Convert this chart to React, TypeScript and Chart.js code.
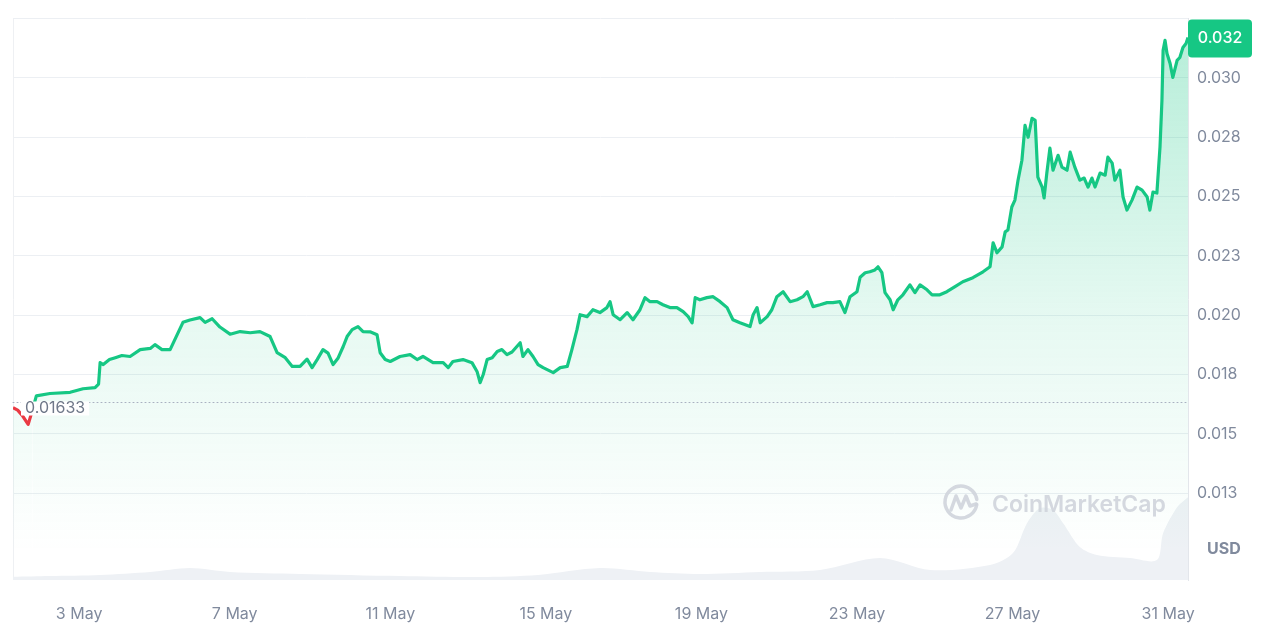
import { useEffect, useRef } from "react";
import { Chart, registerables } from "chart.js";

Chart.register(...registerables);

// Time in days of May (e.g. 3.5 = 3 May 12:00)
const days = [
  1.30, 1.42, 1.55, 1.69, 1.80, 1.90, 2.25, 2.77, 3.10, 3.41, 3.50, 3.54, 3.62, 3.78, 3.93, 4.10, 4.31, 4.57, 4.83, 4.95,
  5.13, 5.34, 5.47, 5.67, 5.85, 6.11, 6.24, 6.42, 6.62, 6.88, 7.14, 7.40, 7.65, 7.91, 8.09, 8.30, 8.48, 8.68, 8.86, 8.99,
  9.12, 9.27, 9.40, 9.53, 9.66, 9.79, 9.89, 10.02, 10.17, 10.30, 10.48, 10.66, 10.74, 10.87, 11.00, 11.25, 11.51, 11.69, 11.84, 12.10,
  12.36, 12.49, 12.61, 12.87, 13.10, 13.23, 13.31, 13.39, 13.49, 13.62, 13.75, 13.87, 14.00, 14.13, 14.34, 14.41, 14.54, 14.67, 14.80, 14.93,
  15.19, 15.37, 15.55, 15.67, 15.80, 15.88, 16.06, 16.21, 16.39, 16.57, 16.65, 16.73, 16.91, 17.09, 17.24, 17.42, 17.55, 17.68, 17.86, 18.01,
  18.19, 18.37, 18.53, 18.66, 18.76, 18.84, 18.96, 19.14, 19.30, 19.48, 19.66, 19.81, 19.99, 20.25, 20.33, 20.43, 20.51, 20.69, 20.81, 20.94,
  21.10, 21.28, 21.46, 21.61, 21.72, 21.87, 22.05, 22.23, 22.38, 22.56, 22.69, 22.82, 23.00, 23.08, 23.21, 23.33, 23.46, 23.54, 23.64, 23.72,
  23.85, 23.93, 24.05, 24.18, 24.36, 24.49, 24.62, 24.80, 24.93, 25.13, 25.31, 25.52, 25.72, 25.98, 26.24, 26.42, 26.50, 26.60, 26.73, 26.81,
  26.88, 26.98, 27.06, 27.14, 27.24, 27.32, 27.40, 27.50, 27.58, 27.65, 27.76, 27.81, 27.88, 27.96, 28.04, 28.17, 28.27, 28.40, 28.48, 28.60,
  28.73, 28.84, 28.94, 29.04, 29.12, 29.25, 29.38, 29.45, 29.56, 29.63, 29.76, 29.84, 29.94, 30.07, 30.20, 30.33, 30.46, 30.53, 30.61, 30.71,
  30.79, 30.84, 30.87, 30.92, 30.97, 31.05, 31.12, 31.23, 31.30, 31.38, 31.46, 31.51,
];

const prices = [
  0.01610, 0.01600, 0.01575, 0.01540, 0.01600, 0.01660, 0.01670, 0.01675, 0.01690, 0.01695, 0.01710, 0.01800, 0.01792, 0.01813, 0.01821, 0.01830, 0.01826, 0.01855, 0.01860, 0.01876,
  0.01855, 0.01855, 0.01900, 0.01970, 0.01980, 0.01990, 0.01970, 0.01985, 0.01950, 0.01920, 0.01931, 0.01926, 0.01931, 0.01910, 0.01842, 0.01821, 0.01784, 0.01784, 0.01815, 0.01779,
  0.01813, 0.01855, 0.01840, 0.01792, 0.01820, 0.01868, 0.01910, 0.01939, 0.01952, 0.01931, 0.01930, 0.01918, 0.01842, 0.01813, 0.01805, 0.01826, 0.01834, 0.01813, 0.01826, 0.01800,
  0.01800, 0.01779, 0.01805, 0.01813, 0.01800, 0.01763, 0.01716, 0.01750, 0.01813, 0.01821, 0.01847, 0.01855, 0.01834, 0.01845, 0.01884, 0.01826, 0.01855, 0.01826, 0.01792, 0.01779,
  0.01758, 0.01779, 0.01784, 0.01855, 0.01939, 0.02002, 0.01994, 0.02023, 0.02011, 0.02032, 0.02057, 0.02002, 0.01981, 0.02011, 0.01981, 0.02023, 0.02074, 0.02057, 0.02057, 0.02044,
  0.02032, 0.02032, 0.02015, 0.01994, 0.01968, 0.02074, 0.02065, 0.02074, 0.02078, 0.02057, 0.02032, 0.01981, 0.01968, 0.01952, 0.02002, 0.02032, 0.01968, 0.01994, 0.02023, 0.02078,
  0.02099, 0.02057, 0.02065, 0.02078, 0.02099, 0.02036, 0.02044, 0.02053, 0.02053, 0.02057, 0.02011, 0.02078, 0.02099, 0.02160, 0.02179, 0.02183, 0.02191, 0.02204, 0.02179, 0.02095,
  0.02065, 0.02023, 0.02065, 0.02086, 0.02128, 0.02095, 0.02128, 0.02107, 0.02086, 0.02086, 0.02099, 0.02120, 0.02141, 0.02158, 0.02183, 0.02204, 0.02305, 0.02263, 0.02288, 0.02351,
  0.02359, 0.02456, 0.02485, 0.02569, 0.02653, 0.02800, 0.02750, 0.02830, 0.02821, 0.02582, 0.02540, 0.02494, 0.02599, 0.02704, 0.02611, 0.02674, 0.02624, 0.02611, 0.02687, 0.02624,
  0.02569, 0.02578, 0.02540, 0.02578, 0.02540, 0.02599, 0.02590, 0.02666, 0.02641, 0.02569, 0.02611, 0.02498, 0.02443, 0.02485, 0.02540, 0.02527, 0.02498, 0.02443, 0.02519, 0.02515,
  0.02708, 0.02905, 0.03116, 0.03158, 0.03103, 0.03061, 0.03002, 0.03074, 0.03086, 0.03128, 0.03145, 0.03170,
];

// Trading volume (millions USD), shown as the grey area at the bottom
const volumeDays = [1.30, 2.25, 3.54, 4.83, 5.85, 6.88, 8.68, 11.25, 13.31, 14.80, 16.39, 17.68, 18.96, 20.51, 22.05, 23.59, 24.88, 26.42, 27.01, 27.37, 27.70, 28.04, 28.30, 28.73, 29.17, 30.02, 30.71, 30.87, 31.23, 31.51];
const volumes = [0.35, 0.44, 0.56, 0.89, 1.33, 0.89, 0.67, 0.44, 0.33, 0.56, 1.33, 0.89, 0.67, 0.89, 1.11, 2.44, 1.11, 1.67, 3.0, 6.33, 8.0, 7.78, 6.33, 3.67, 2.78, 2.44, 2.22, 5.22, 8.11, 9.22];

const xTickDays = [3, 7, 11, 15, 19, 23, 27, 31];
const xTickLabels = ["3 May", "7 May", "11 May", "15 May", "19 May", "23 May", "27 May", "31 May"];
const yTickValues = [0.0125, 0.015, 0.0175, 0.02, 0.0225, 0.025, 0.0275, 0.03, 0.0325];
const yTickLabels = ["0.013", "0.015", "0.018", "0.020", "0.023", "0.025", "0.028", "0.030", ""];

const openPrice = 0.01633;
const openPriceLabel = "0.01633";
const lastPriceLabel = "0.032";
const currencyLabel = "USD";
const watermarkText = "CoinMarketCap";

const GREEN = "#16c784";
const RED = "#ea3943";
const AXIS_TEXT = "#808a9d";
const FONT = "Inter, 'Noto Sans', sans-serif";

const overlayPlugin = {
  id: "overlay",
  beforeDatasetsDraw(chart: any) {
    const { ctx, chartArea } = chart;
    ctx.save();
    ctx.strokeStyle = "#eef0f3";
    ctx.lineWidth = 1;
    ctx.beginPath();
    ctx.moveTo(chartArea.left + 0.5, chartArea.top);
    ctx.lineTo(chartArea.left + 0.5, chartArea.bottom);
    ctx.stroke();
    ctx.restore();
  },
  afterDatasetsDraw(chart: any) {
    const { ctx, chartArea, scales } = chart;
    const y = scales.y;
    ctx.save();

    // Watermark
    ctx.globalAlpha = 0.9;
    ctx.strokeStyle = "#cfd4dc";
    ctx.fillStyle = "#cfd4dc";
    ctx.lineWidth = 3.5;
    ctx.lineCap = "round";
    ctx.lineJoin = "round";
    const cx = 961, cy = 502, r = 16;
    ctx.beginPath();
    ctx.arc(cx, cy, r, Math.PI * 0.05, Math.PI * 1.95, false);
    ctx.stroke();
    ctx.beginPath();
    ctx.moveTo(cx - 10, cy + 8);
    ctx.lineTo(cx - 5, cy - 6);
    ctx.lineTo(cx, cy + 6);
    ctx.lineTo(cx + 5, cy - 6);
    ctx.lineTo(cx + 9, cy + 4);
    ctx.lineTo(cx + 15, cy + 2);
    ctx.stroke();
    ctx.font = `600 23px ${FONT}`;
    ctx.textBaseline = "alphabetic";
    ctx.textAlign = "left";
    ctx.fillText(watermarkText, 992, 512);
    ctx.globalAlpha = 1;

    // Open-price dotted line
    const by = Math.round(y.getPixelForValue(openPrice)) + 0.5;
    ctx.strokeStyle = "#a9b1c0";
    ctx.lineWidth = 1;
    ctx.setLineDash([1, 3]);
    ctx.beginPath();
    ctx.moveTo(chartArea.left, by);
    ctx.lineTo(chartArea.right, by);
    ctx.stroke();
    ctx.setLineDash([]);
    ctx.font = `16px ${FONT}`;
    ctx.fillStyle = "#ffffff";
    const tw = ctx.measureText(openPriceLabel).width;
    ctx.fillRect(21, by - 1, tw + 8, 14);
    ctx.fillStyle = "#6f7889";
    ctx.textBaseline = "middle";
    ctx.fillText(openPriceLabel, 25, by + 6);

    // Last price box
    const lastY = y.getPixelForValue(prices[prices.length - 1]);
    const bx = chartArea.right, bw = 64, bh = 38;
    const boxTop = Math.max(chartArea.top + 1, lastY - bh / 2);
    ctx.fillStyle = GREEN;
    ctx.beginPath();
    (ctx as any).roundRect(bx, boxTop, bw, bh, 4);
    ctx.fill();
    ctx.fillStyle = "#ffffff";
    ctx.font = `500 16px ${FONT}`;
    ctx.textAlign = "center";
    ctx.textBaseline = "middle";
    ctx.fillText(lastPriceLabel, bx + bw / 2, boxTop + bh / 2);

    // Currency label
    ctx.fillStyle = AXIS_TEXT;
    ctx.font = `bold 16px ${FONT}`;
    ctx.textAlign = "left";
    ctx.fillText(currencyLabel, 1207, 549);
    ctx.restore();
  },
};

export default function App() {
  const ref = useRef<HTMLCanvasElement | null>(null);

  useEffect(() => {
    if (!ref.current) return;
    const chart = new Chart(ref.current, {
      type: "line",
      data: {
        datasets: [
          {
            label: "Price",
            data: days.map((d, i) => ({ x: d, y: prices[i] })),
            yAxisID: "y",
            borderColor: GREEN,
            borderWidth: 3.2,
            pointRadius: 0,
            tension: 0,
            borderJoinStyle: "round",
            fill: "start",
            order: 1,
            backgroundColor: (c: any) => {
              const { chart } = c;
              const area = chart.chartArea;
              if (!area) return "rgba(22,199,132,0.1)";
              const g = chart.ctx.createLinearGradient(0, area.top, 0, area.bottom);
              g.addColorStop(0, "rgba(22,199,132,0.32)");
              g.addColorStop(0.55, "rgba(22,199,132,0.10)");
              g.addColorStop(0.95, "rgba(22,199,132,0.0)");
              g.addColorStop(1, "rgba(22,199,132,0.0)");
              return g;
            },
            segment: {
              borderColor: (s: any) =>
                s.p0.parsed.y < openPrice && s.p1.parsed.y < openPrice ? RED : GREEN,
            },
          } as any,
          {
            label: "Volume",
            data: volumeDays.map((d, i) => ({ x: d, y: volumes[i] })),
            yAxisID: "yv",
            borderWidth: 0,
            borderColor: "rgba(0,0,0,0)",
            backgroundColor: "#eef1f5",
            pointRadius: 0,
            tension: 0.3,
            fill: "start",
            order: 2,
          } as any,
        ],
      },
      options: {
        responsive: false,
        animation: false,
        layout: { padding: { left: 13, top: 17, right: 0, bottom: 0 } },
        plugins: { legend: { display: false }, tooltip: { enabled: false } },
        scales: {
          x: {
            type: "linear",
            min: 1.3,
            max: 31.51,
            afterBuildTicks: (s: any) => {
              s.ticks = xTickDays.map((v) => ({ value: v }));
            },
            afterFit: (s: any) => {
              s.height = 54;
            },
            grid: { display: false, drawTicks: false },
            border: { display: false },
            ticks: {
              autoSkip: false,
              maxRotation: 0,
              padding: 25,
              color: AXIS_TEXT,
              font: { family: FONT, size: 16 },
              callback: (_v: any, i: number) => xTickLabels[i],
            },
          },
          y: {
            position: "right",
            min: 0.00884,
            max: 0.0325,
            afterBuildTicks: (s: any) => {
              s.ticks = yTickValues.map((v) => ({ value: v }));
            },
            afterFit: (s: any) => {
              s.width = 92;
            },
            grid: { color: "#eceff3", drawTicks: false },
            border: { display: true, color: "#e3e6eb" },
            ticks: {
              padding: 9,
              color: AXIS_TEXT,
              font: { family: FONT, size: 16 },
              callback: (_v: any, i: number) => yTickLabels[i],
            },
          },
          yv: {
            display: false,
            min: 0,
            max: 62.6,
          },
        },
      },
      plugins: [overlayPlugin],
    });
    return () => chart.destroy();
  }, []);

  return (
    <div style={{ position: "absolute", left: 0, top: 0, width: 1280, height: 634, background: "#ffffff" }}>
      <canvas ref={ref} width={1280} height={634} />
    </div>
  );
}
